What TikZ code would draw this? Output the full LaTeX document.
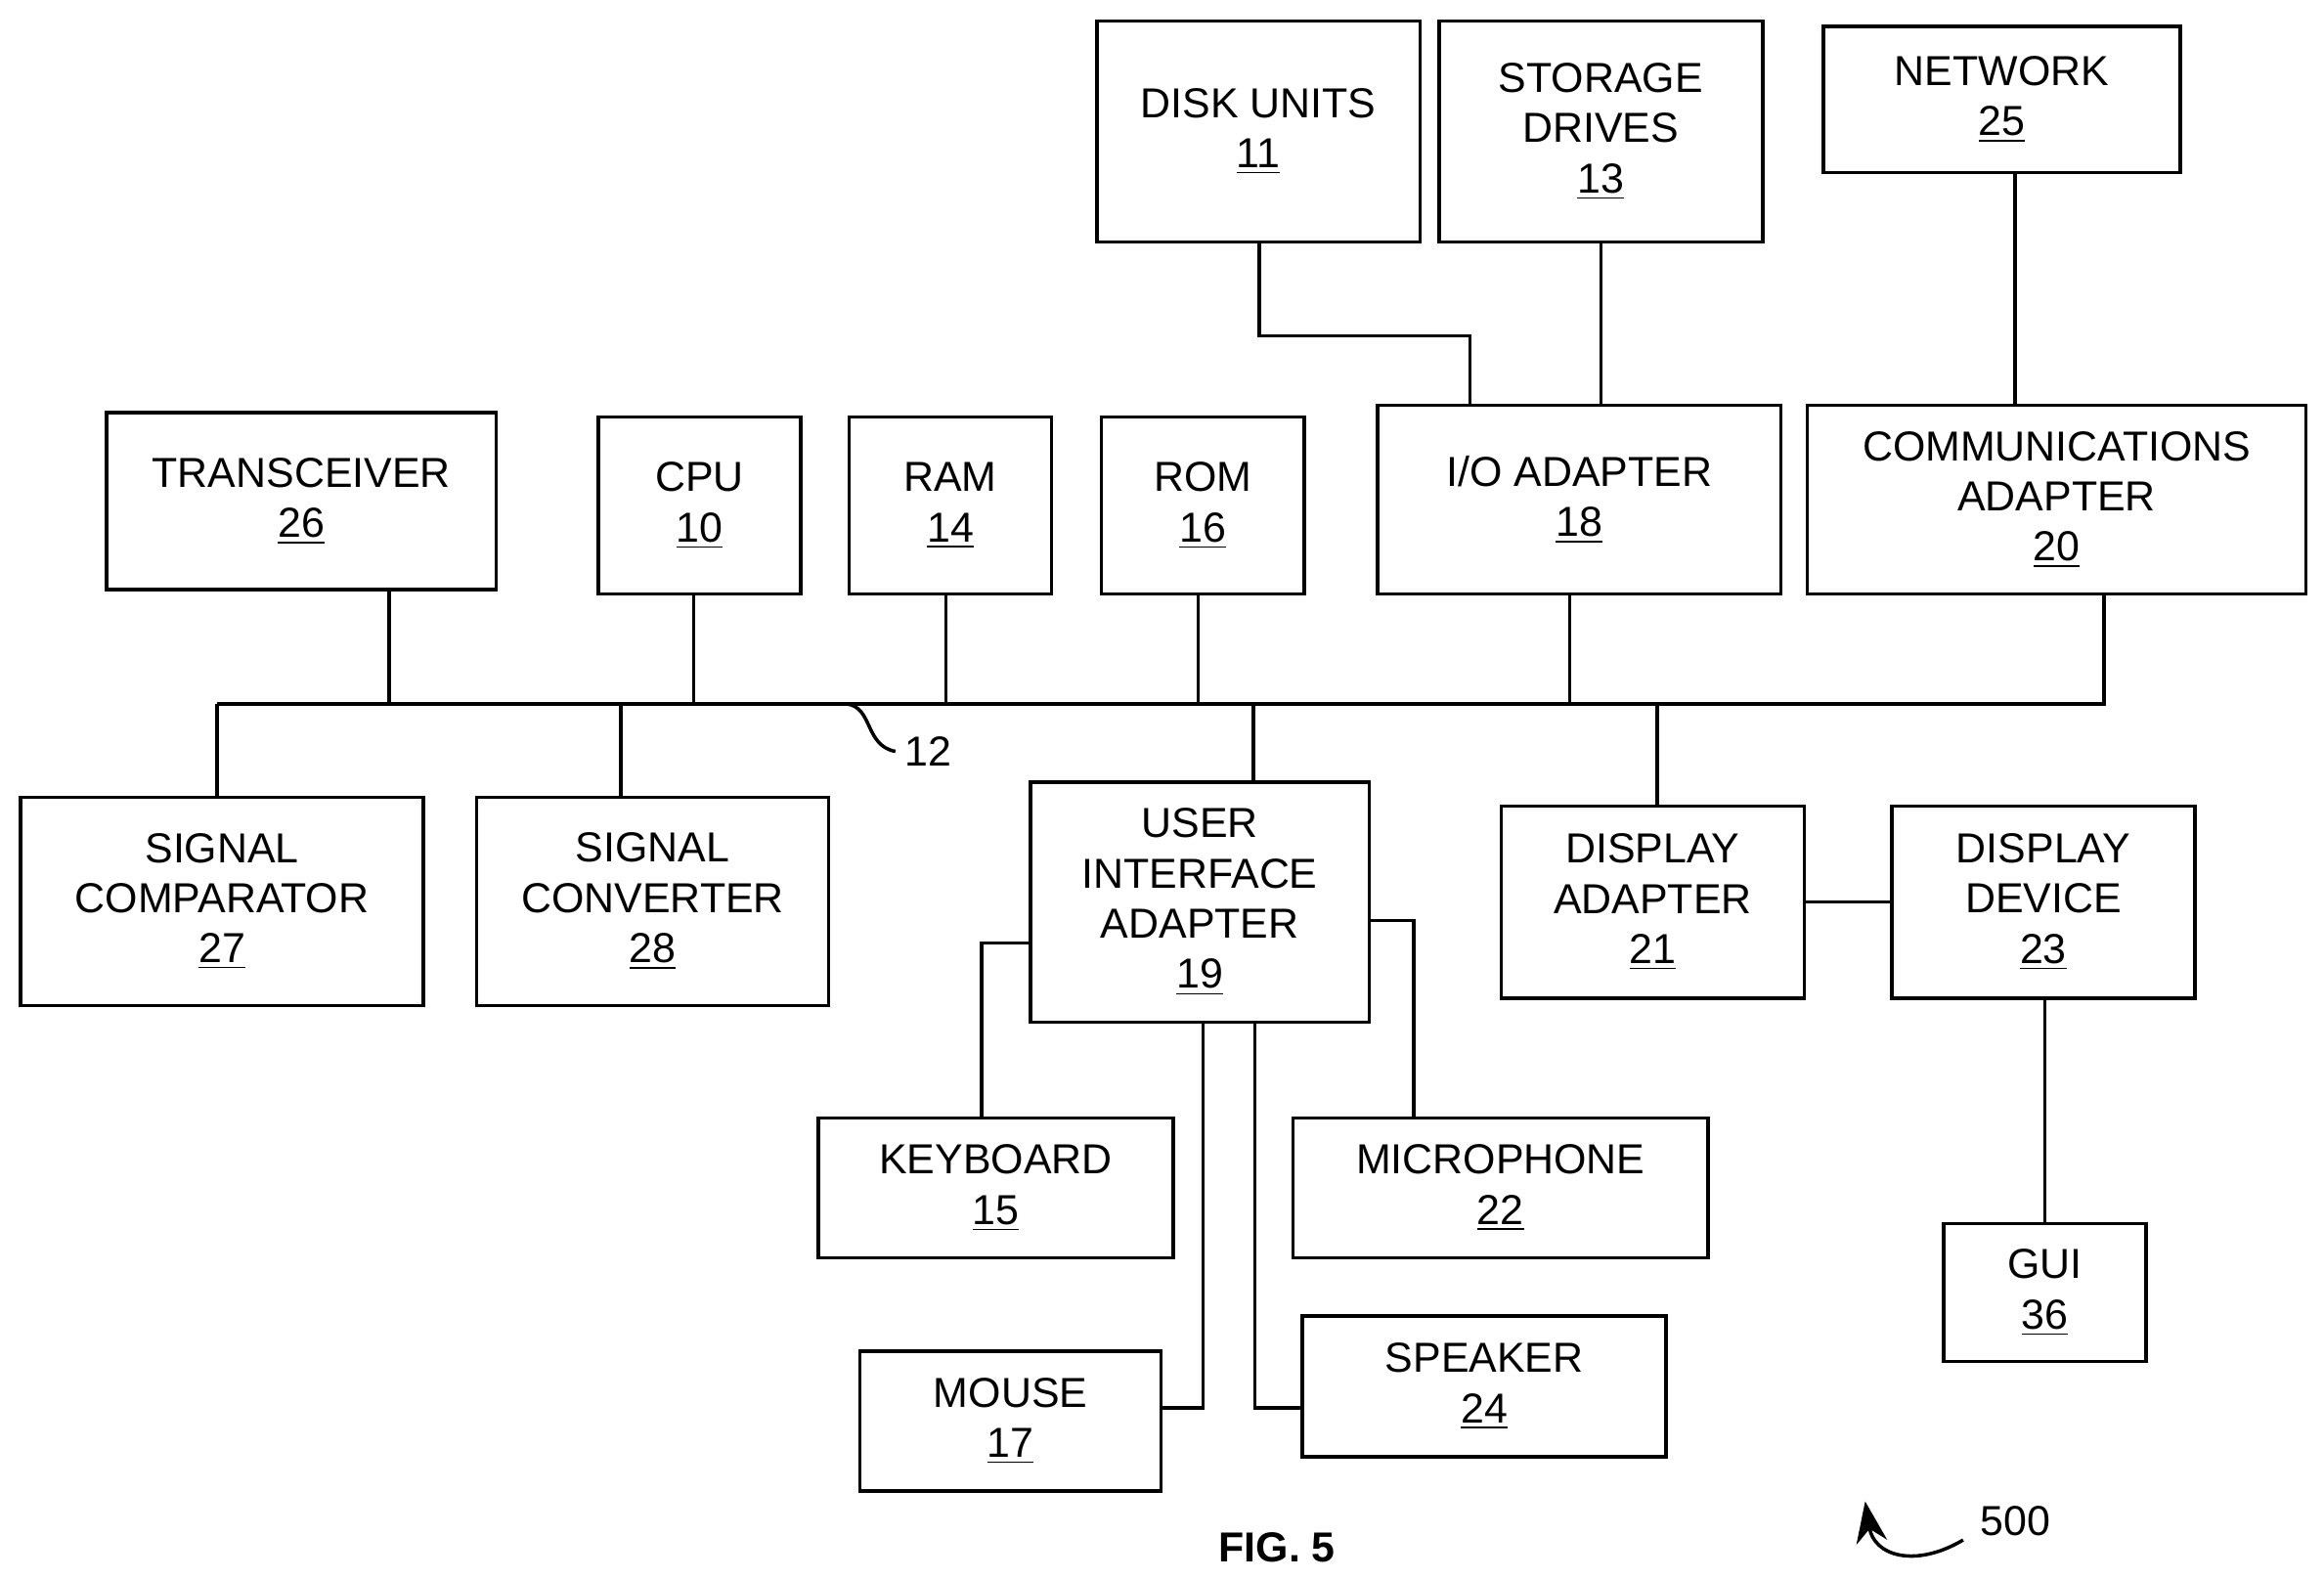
\documentclass[tikz,border=0pt]{standalone}
\usepackage{fontspec}
\setmainfont{Liberation Sans}
\usetikzlibrary{arrows.meta}
\tikzset{
    blk/.style={
    rectangle,draw=black,line width=1pt,align=center,font=\fontsize{12.2}{14.6}\selectfont
    },
    wire/.style={
    line width=1pt
    },
}
\newcommand{\refno}[1]{\underline{#1}}
\begin{document}
\begin{tikzpicture}[x=0.01519cm, y=-0.01519cm]
   \useasboundingbox (0,0) rectangle (1565,1063);
   \node[blk, minimum width=3.30cm, minimum height=2.26cm] (disk) at (847.5,88.5) {DISK UNITS\\\refno{11}};
   \node[blk, minimum width=3.31cm, minimum height=2.26cm] (stor) at (1078,88.5) {STORAGE\\DRIVES\\\refno{13}};
   \node[blk, minimum width=3.65cm, minimum height=1.49cm] (net) at (1348,67) {NETWORK\\\refno{25}};
   \node[blk, minimum width=3.98cm, minimum height=1.81cm] (trx) at (203,337.5) {TRANSCEIVER\\\refno{26}};
   \node[blk, minimum width=2.07cm, minimum height=1.81cm] (cpu) at (471,340.5) {CPU\\\refno{10}};
   \node[blk, minimum width=2.07cm, minimum height=1.81cm] (ram) at (640,340.5) {RAM\\\refno{14}};
   \node[blk, minimum width=2.07cm, minimum height=1.81cm] (rom) at (810,340.5) {ROM\\\refno{16}};
   \node[blk, minimum width=4.12cm, minimum height=1.93cm] (io) at (1063.5,336.5) {I/O ADAPTER\\\refno{18}};
   \node[blk, minimum width=5.10cm, minimum height=1.93cm] (comm) at (1385,336.5) {COMMUNICATIONS\\ADAPTER\\\refno{20}};
   \node[blk, minimum width=4.12cm, minimum height=2.13cm] (cmp) at (149.5,607) {SIGNAL\\COMPARATOR\\\refno{27}};
   \node[blk, minimum width=3.60cm, minimum height=2.13cm] (cnv) at (439.5,607) {SIGNAL\\CONVERTER\\\refno{28}};
   \node[blk, minimum width=3.46cm, minimum height=2.45cm] (uia) at (808,607.5) {USER\\INTERFACE\\ADAPTER\\\refno{19}};
   \node[blk, minimum width=3.10cm, minimum height=1.96cm] (dspa) at (1113,607.5) {DISPLAY\\ADAPTER\\\refno{21}};
   \node[blk, minimum width=3.10cm, minimum height=1.96cm] (dspd) at (1376,607.5) {DISPLAY\\DEVICE\\\refno{23}};
   \node[blk, minimum width=3.63cm, minimum height=1.43cm] (kbd) at (670.5,800) {KEYBOARD\\\refno{15}};
   \node[blk, minimum width=4.24cm, minimum height=1.43cm] (mic) at (1010.5,800) {MICROPHONE\\\refno{22}};
   \node[blk, minimum width=3.08cm, minimum height=1.43cm] (mouse) at (680.5,957) {MOUSE\\\refno{17}};
   \node[blk, minimum width=3.72cm, minimum height=1.44cm] (spk) at (999.5,933.5) {SPEAKER\\\refno{24}};
   \node[blk, minimum width=2.07cm, minimum height=1.41cm] (gui) at (1377,870.5) {GUI\\\refno{36}};

   % bus 12
   \coordinate (busL) at (146,474);
   \coordinate (busR) at (1417,474);
   \draw[wire] (busL) -- (busR) -- (comm.south -| busR);
   \draw[wire] (cmp.north -| busL) -- (busL);
   \foreach \n/\x in {trx/262, cpu/467, ram/637, rom/807, io/1057}
     \draw[wire] (\n.south -| \x,0) -- (\x,474);
   \foreach \n/\x in {cnv/418, uia/844, dspa/1116}
     \draw[wire] (\x,474) -- (\n.north -| \x,0);
   \draw[wire] (570,474) .. controls (588,476) and (582,502) .. (603,506);
   \node[font=\fontsize{12.2}{14.6}\selectfont, anchor=west] (lbl12) at (601,506) {12};

   % storage side
   \draw[wire] (disk.south -| 848,0) |- (990,226) -- (io.north -| 990,0);
   \draw[wire] (stor.south) -- (io.north -| stor.south);
   \draw[wire] (net.south -| 1357,0) -- (comm.north -| 1357,0);

   % user interface side
   \draw[wire] (uia.west |- 0,635) -| (kbd.north -| 661,0);
   \draw[wire] (uia.east |- 0,620) -| (mic.north -| 952,0);
   \draw[wire] (uia.south -| 810,0) |- (mouse.east |- 0,948);
   \draw[wire] (uia.south -| 845,0) |- (spk.west |- 0,948);
   \draw[wire] (dspa) -- (dspd);
   \draw[wire] (dspd.south -| gui.north) -- (gui.north);

   \node[font=\bfseries\fontsize{12.2}{14.6}\selectfont] (fig) at (860,1042) {FIG. 5};
   \node[font=\fontsize{12.2}{14.6}\selectfont] (ref500) at (1357,1024) {500};
   \draw[wire, -{Stealth[length=12pt,width=9pt]}] (1322,1037) .. controls (1290,1056) and (1262,1048) .. (1256,1011);
\end{tikzpicture}
\end{document}
